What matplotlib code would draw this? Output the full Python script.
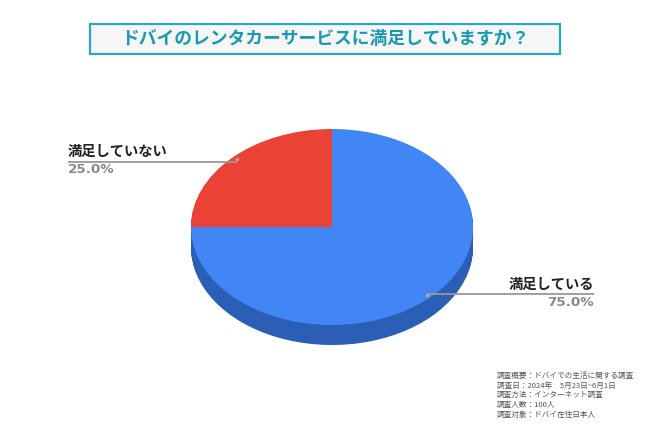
import matplotlib
matplotlib.use("Agg")
import matplotlib.pyplot as plt
import numpy as np
from matplotlib.patches import Rectangle

plt.rcParams['font.family'] = ['Noto Sans CJK JP', 'DejaVu Sans']

title = "ドバイのレンタカーサービスに満足していますか？"
categories = ["満足している", "満足していない"]
values = [75.0, 25.0]
colors_top = ["#4285f4", "#ea4335"]
colors_side = ["#2b5fb5", "#b8322a"]
notes = [
    "調査概要：ドバイでの生活に関する調査",
    "調査日：2024年　5月23日~6月1日",
    "調査方法：インターネット調査",
    "調査人数：100人",
    "調査対象：ドバイ在住日本人",
]

W, H = 650, 434
fig = plt.figure(figsize=(6.5, 4.34), dpi=100)
fig.patch.set_facecolor("white")

# pie geometry in pixels
cx, cy = 332, 227
rx, ry = 141, 98
depth = 20

xl = (-1.25, 1.25)
yl = (-1.6, 1.25)
left = cx + xl[0] * rx
width = (xl[1] - xl[0]) * rx
top = cy - yl[1] * ry
height = (yl[1] - yl[0]) * ry
ax = fig.add_axes([left / W, 1 - (top + height) / H, width / W, height / H])

startangle = 90
d = depth / ry
n = 30
for k in range(n, 0, -1):
    shade = colors_side
    ax.pie(values, colors=shade, startangle=startangle, counterclock=False,
           center=(0, -d * k / n), radius=1, wedgeprops=dict(linewidth=0))
ax.pie(values, colors=colors_top, startangle=startangle, counterclock=False,
       center=(0, 0), radius=1, wedgeprops=dict(linewidth=0))
ax.set_aspect('auto')
ax.set_xlim(*xl)
ax.set_ylim(*yl)
ax.axis('off')

# overlay axes in pixel coords
ov = fig.add_axes([0, 0, 1, 1], facecolor="none")
ov.set_xlim(0, W)
ov.set_ylim(H, 0)
ov.axis('off')

# title box
ov.add_patch(Rectangle((90, 24), 470, 30, facecolor="#f6f6f6", edgecolor="#2aa8c0", linewidth=1.6))
ov.text(325, 39.5, title, ha="center", va="center", fontsize=12.8, fontweight="bold", color="#1a9ab2")

# labels
total = sum(values)
angles = []
a0 = startangle
for v in values:
    span = 360 * v / total
    mid = a0 - span / 2
    angles.append(mid)
    a0 -= span

label_cfg = [
    dict(x_end=594, ly=294, ha="right"),
    dict(x_end=68, ly=161.5, ha="left"),
]
for i, (cat, v) in enumerate(zip(categories, values)):
    ang = np.deg2rad(angles[i])
    px = cx + 0.955 * rx * np.cos(ang)
    py = cy - 0.975 * ry * np.sin(ang)
    cfg = label_cfg[i]
    ov.plot([px, cfg["x_end"]], [cfg["ly"], cfg["ly"]], color="#999999", lw=1.3, solid_capstyle="butt")
    ov.plot([px], [py], marker="o", ms=2.5, color="#aaaaaa", mec="none")
    ov.text(cfg["x_end"], cfg["ly"] - 2.5, cat, ha=cfg["ha"], va="bottom", fontsize=10.3,
            fontweight="bold", color="#222222")
    ov.text(cfg["x_end"], cfg["ly"] + 1.5, f"{v:.1f}%", ha=cfg["ha"], va="top", fontsize=9.7,
            fontweight="bold", color="#8a8a8a", family=["DejaVu Sans"])

# notes
for j, t in enumerate(notes):
    ov.text(497, 375.7 + j * 9.8, t, ha="left", va="center", fontsize=5.5, color="#555555")

fig.savefig("out.png", dpi=100, facecolor="white")
